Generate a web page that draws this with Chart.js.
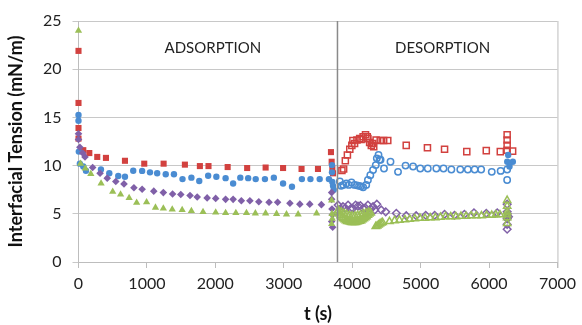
<!DOCTYPE html>
<html>
<head>
<meta charset="utf-8">
<script src="https://cdn.jsdelivr.net/npm/chart.js@4/dist/chart.umd.min.js"></script>
<style>
  html, body { margin: 0; padding: 0; background: #fff; }
  #wrap { width: 582px; height: 325px; }
</style>
</head>
<body>
<div id="wrap"><canvas id="ift"></canvas></div>
<script>
// interfacial tension vs time, adsorption then desorption
const yTicks = [0, 5, 10, 15, 20, 25];
const xTicks = [0, 1000, 2000, 3000, 4000, 5000, 6000, 7000];
const switchTime = 3785;

const redAdsT = [0, 0, 0, 0, 70, 158, 274, 401, 679, 961, 1244, 1555, 1774, 1900, 2180, 2465, 2735, 2990, 3260, 3500, 3690, 3700, 3710, 3720];
const redAdsV = [21.9, 16.5, 13.9, 12.8, 11.6, 11.3, 10.9, 10.8, 10.5, 10.2, 10.2, 10.1, 9.95, 9.95, 9.85, 9.75, 9.8, 9.75, 9.65, 9.65, 11.4, 10.4, 9.7, 9.2];
const redDesT = [3850, 3875, 3900, 3930, 3965, 3995, 4010, 4035, 4070, 4110, 4130, 4160, 4195, 4220, 4230, 4255, 4280, 4300, 4315, 4350, 4410, 4460, 4520, 4790, 5100, 5350, 5675, 5960, 6165, 6265, 6265, 6265, 6265, 6345];
const redDesV = [9.5, 9.65, 10.5, 11.1, 11.7, 12.1, 12.6, 12.3, 12.65, 12.8, 12.7, 13.0, 13.2, 13.0, 12.8, 12.4, 12.1, 12.3, 11.95, 12.65, 12.6, 12.6, 12.6, 12.1, 11.85, 11.7, 11.45, 11.55, 11.45, 13.2, 12.65, 12.1, 11.6, 11.5];

const blueAdsT = [0, 0, 5, 20, 70, 109, 328, 450, 581, 679, 800, 930, 1045, 1150, 1275, 1395, 1520, 1650, 1765, 1895, 2015, 2150, 2260, 2365, 2480, 2590, 2725, 2855, 2990, 3120, 3265, 3390, 3525, 3660, 3705, 3705, 3710, 3720, 3730, 6266, 6299, 6348, 6280];
const blueAdsV = [15.25, 14.65, 11.45, 10.2, 9.9, 9.47, 9.6, 9.2, 8.92, 8.85, 9.47, 9.45, 9.3, 9.2, 9.1, 9.1, 8.6, 8.75, 8.4, 8.95, 8.85, 8.7, 8.15, 8.75, 8.7, 8.6, 8.6, 8.75, 8.15, 7.8, 8.6, 8.6, 8.6, 8.6, 10.05, 9.3, 8.3, 7.9, 7.5, 10.4, 9.9, 10.4, 11.1];
const blueDesT = [3820, 3840, 3870, 3915, 3950, 3990, 4035, 4070, 4100, 4130, 4160, 4205, 4230, 4265, 4305, 4345, 4360, 4385, 4400, 4415, 4465, 4560, 4670, 4780, 4890, 4995, 5105, 5230, 5335, 5450, 5580, 5690, 5790, 5885, 6040, 6170, 6265, 6265];
const blueDesV = [8.35, 7.9, 8.0, 8.15, 8.0, 8.25, 8.0, 7.95, 7.9, 7.85, 7.75, 8.0, 8.5, 9.0, 9.55, 10.05, 10.75, 11.1, 10.6, 10.6, 9.7, 10.4, 9.35, 10.0, 9.9, 9.7, 9.7, 9.7, 9.7, 9.6, 9.6, 9.6, 9.6, 9.6, 9.35, 9.45, 8.5, 9.6];

const purpleAdsT = [0, 0, 20, 61, 95, 207, 315, 420, 545, 665, 810, 930, 1100, 1240, 1375, 1495, 1630, 1735, 1880, 2005, 2150, 2260, 2380, 2505, 2635, 2785, 2910, 3090, 3235, 3380, 3550, 3700, 3700, 3705, 3710, 3700, 3715, 6280, 6300, 6270];
const purpleAdsV = [13.3, 12.7, 11.9, 11.3, 10.9, 9.8, 9.2, 8.7, 8.35, 8.1, 7.7, 7.55, 7.35, 7.2, 7.05, 7.0, 6.9, 6.75, 6.65, 6.6, 6.5, 6.5, 6.35, 6.35, 6.25, 6.2, 6.2, 6.1, 6.0, 6.0, 5.95, 7.2, 6.5, 5.5, 4.9, 4.2, 3.6, 5.0, 4.7, 4.4];
const purpleDesT = [3795, 3830, 3865, 3900, 3940, 3975, 4010, 4050, 4085, 4120, 4160, 4195, 4230, 4270, 4305, 4330, 4360, 4425, 4490, 4645, 4790, 4935, 5075, 5205, 5350, 5495, 5640, 5780, 5960, 6120, 6265, 6265, 6265, 6265, 6265];
const purpleDesV = [5.9, 5.5, 5.75, 5.6, 5.9, 5.5, 5.55, 5.9, 5.8, 5.85, 5.55, 5.6, 5.9, 5.5, 5.75, 5.4, 6.0, 5.4, 5.2, 5.05, 4.8, 4.8, 4.85, 4.85, 4.95, 4.85, 4.95, 5.1, 5.05, 5.1, 6.0, 5.2, 4.5, 3.9, 3.4];

const greenAdsT = [0, 30, 100, 180, 330, 500, 615, 740, 850, 995, 1125, 1240, 1370, 1515, 1650, 1820, 2005, 2150, 2300, 2455, 2585, 2735, 2895, 3040, 3210, 3480, 3700, 3700, 3705, 3710];
const greenAdsV = [24.0, 10.2, 9.7, 9.15, 8.15, 7.3, 7.0, 6.65, 6.15, 6.2, 5.65, 5.55, 5.45, 5.4, 5.3, 5.2, 5.15, 5.1, 5.1, 5.1, 5.05, 5.05, 5.0, 4.95, 4.95, 5.05, 6.4, 3.95, 5.0, 4.5];
const greenDesT = [3790, 3810, 3830, 3850, 3870, 3890, 3910, 3930, 3950, 3970, 3990, 4010, 4030, 4050, 4070, 4090, 4110, 4130, 4150, 4170, 4190, 4210, 4230, 4250, 4270,
  3800, 3840, 3880, 3920, 3960, 4000, 4040, 4080, 4120, 4160, 4200, 4240,
  4345, 4365, 4385, 4405, 4425, 4445, 4545, 4620, 4690, 4770, 4840, 4915, 4990, 5065, 5140, 5215, 5290, 5365, 5440, 5515, 5590, 5665, 5740, 5815, 5890, 5965, 6040, 6100, 6160,
  6265, 6265, 6265, 6265, 6265, 6265];
const greenDesV = [5.3, 5.0, 4.8, 4.6, 4.5, 4.4, 4.3, 4.2, 4.2, 4.15, 4.1, 4.1, 4.1, 4.1, 4.15, 4.2, 4.25, 4.3, 4.4, 4.5, 4.6, 4.7, 4.85, 5.0, 5.1,
  5.35, 5.2, 5.05, 4.95, 4.85, 4.8, 4.8, 4.85, 4.9, 5.0, 5.1, 5.2,
  3.7, 3.75, 3.85, 3.95, 4.05, 4.1, 4.2, 4.3, 4.35, 4.4, 4.45, 4.5, 4.55, 4.55, 4.6, 4.6, 4.65, 4.7, 4.7, 4.7, 4.75, 4.75, 4.8, 4.8, 4.8, 4.85, 4.85, 4.9, 4.9, 4.9,
  6.4, 5.8, 5.2, 4.6, 4.0, 3.5];

const red = '#d2413f';
const blue = '#4a8cd2';
const purple = '#8060a8';
const green = '#9bbf57';

function pts(ts, vs) {
  return ts.map((t, i) => ({ x: t, y: vs[i] }));
}

function filled(ts, vs, color, style, r) {
  return {
    data: pts(ts, vs), pointStyle: style, pointRadius: r,
    backgroundColor: color, borderColor: color, borderWidth: 0,
    showLine: false, clip: false
  };
}

function hollow(ts, vs, color, style, r) {
  return {
    data: pts(ts, vs), pointStyle: style, pointRadius: r,
    backgroundColor: 'rgba(255,255,255,0)', borderColor: color, borderWidth: 1.5,
    showLine: false, clip: false
  };
}

// vertical phase line, frame on the right, phase labels
const extras = {
  id: 'extras',
  afterDatasetsDraw(chart) {
    const { ctx, chartArea: a, scales } = chart;
    const x = scales.x.getPixelForValue(switchTime);
    ctx.save();
    ctx.strokeStyle = '#8a8a8a';
    ctx.lineWidth = 1.5;
    ctx.beginPath();
    ctx.moveTo(x, a.top);
    ctx.lineTo(x, a.bottom);
    ctx.stroke();
    ctx.strokeStyle = '#bdbdbd';
    ctx.lineWidth = 1;
    ctx.beginPath();
    ctx.moveTo(a.right + 0.5, a.top);
    ctx.lineTo(a.right + 0.5, a.bottom + 6);
    ctx.stroke();
    ctx.fillStyle = '#222';
    ctx.font = '15px Lato';
    ctx.textAlign = 'center';
    ctx.textBaseline = 'middle';
    ctx.fillText('ADSORPTION', scales.x.getPixelForValue(1964), scales.y.getPixelForValue(22.2));
    ctx.fillText('DESORPTION', scales.x.getPixelForValue(5321), scales.y.getPixelForValue(22.2));
    ctx.restore();
  }
};

new Chart(document.getElementById('ift'), {
  type: 'scatter',
  data: {
    datasets: [
      filled(greenAdsT, greenAdsV, green, 'triangle', 4.2),
      hollow(greenDesT, greenDesV, green, 'triangle', 4.2),
      filled(purpleAdsT, purpleAdsV, purple, 'rectRot', 3.8),
      hollow(purpleDesT, purpleDesV, purple, 'rectRot', 3.8),
      filled(blueAdsT, blueAdsV, blue, 'circle', 3.2),
      hollow(blueDesT, blueDesV, blue, 'circle', 3.2),
      filled(redAdsT, redAdsV, red, 'rect', 4.3),
      hollow(redDesT, redDesV, red, 'rect', 4.3)
    ]
  },
  options: {
    responsive: true,
    maintainAspectRatio: false,
    animation: false,
    layout: { padding: { top: 21, right: 24, left: 0, bottom: 0 } },
    plugins: { legend: { display: false }, tooltip: { enabled: false } },
    scales: {
      x: {
        type: 'linear', min: 0, max: 7000,
        afterBuildTicks: s => { s.ticks = xTicks.map(v => ({ value: v })); },
        afterFit: s => { s.height = 63; },
        grid: { drawOnChartArea: false, drawTicks: true, tickLength: 6, color: '#bdbdbd' },
        border: { color: '#bdbdbd' },
        ticks: { color: '#222', font: { family: 'Lato', size: 16 }, padding: 6, maxRotation: 0, callback: v => String(v) },
        title: { display: true, text: 't (s)', color: '#111', font: { family: 'Lato', size: 18, weight: 'bold' }, padding: { top: 3, bottom: 0 } }
      },
      y: {
        min: 0, max: 25,
        afterBuildTicks: s => { s.ticks = yTicks.map(v => ({ value: v })); },
        afterFit: s => { s.width = 78.5; },
        grid: { color: '#c8c8c8', tickLength: 6 },
        border: { color: '#bdbdbd' },
        ticks: { color: '#222', font: { family: 'Lato', size: 16 }, padding: 11, callback: v => String(v) },
        title: { display: true, text: 'Interfacial Tension (mN/m)', color: '#111', font: { family: 'Lato', size: 18, weight: 'bold' }, padding: { top: 5, bottom: 0 } }
      }
    }
  },
  plugins: [extras]
});
</script>
</body>
</html>
